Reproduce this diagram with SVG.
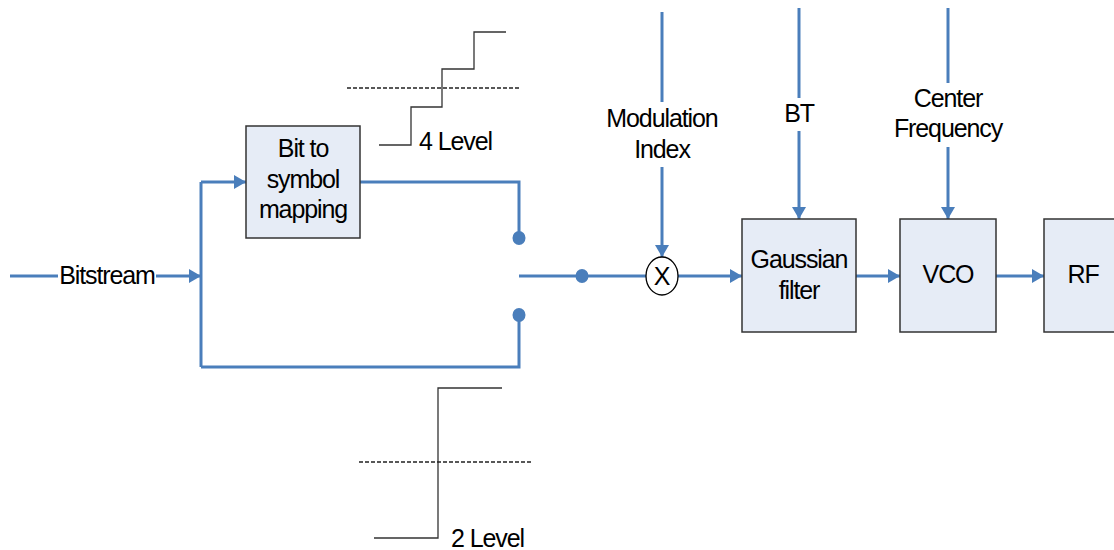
<svg xmlns="http://www.w3.org/2000/svg" width="1114" height="550" viewBox="0 0 1114 550">
<style>
text{font-family:"Liberation Sans",Arial,sans-serif;font-size:25px;letter-spacing:-1.1px;fill:#000;text-anchor:middle}
.box{fill:#e6ecf6;stroke:#333;stroke-width:1.5}
.c{fill:none;stroke:#4a7ebb;stroke-width:3}
.a{marker-end:url(#ah)}
.dot{fill:#4a7ebb}
.lv{fill:none;stroke:#333;stroke-width:1.3}
.dash{fill:none;stroke:#222;stroke-width:1.3;stroke-dasharray:4 2}
.lt{text-anchor:start}
</style>
<defs>
<marker id="ah" markerUnits="userSpaceOnUse" markerWidth="13" markerHeight="15" refX="12" refY="7" orient="auto">
<path d="M0,0 L12,7 L0,14 z" fill="#4a7ebb"/>
</marker>
</defs>
<g id="connectors">
<path class="c" d="M10,276 H58"/>
<path class="c a" d="M156,276 H201"/>
<path class="c" d="M201,367 V182"/>
<path class="c a" d="M201,182 H246"/>
<path class="c" d="M360,182 H519 V232"/>
<path class="c" d="M201,367 H519 V320"/>
<path class="c" d="M519,276 H646"/>
<path class="c a" d="M678,276 H742"/>
<path class="c" d="M662,12 V102"/>
<path class="c a" d="M662,167 V257"/>
<path class="c" d="M799,8 V98"/>
<path class="c a" d="M799,131 V219"/>
<path class="c" d="M948,8 V83"/>
<path class="c a" d="M948,147 V219"/>
<path class="c a" d="M856,276 H900"/>
<path class="c a" d="M996,276 H1044"/>
<ellipse class="dot" cx="519" cy="238" rx="6.5" ry="7"/>
<ellipse class="dot" cx="519" cy="315" rx="6.5" ry="7"/>
<ellipse class="dot" cx="582" cy="276" rx="6.5" ry="7"/>
</g>
<g id="bitstream"><text x="107" y="284">Bitstream</text></g>
<g id="bit2sym">
<rect class="box" x="246" y="126" width="114" height="112"/>
<text x="303" y="157">Bit to</text>
<text x="303" y="188">symbol</text>
<text x="303" y="218">mapping</text>
</g>
<g id="level4">
<path class="lv" d="M379,145 H411 V107 H442 V69 H474 V32 H506"/>
<path class="dash" d="M347,88 H519"/>
<text class="lt" x="419" y="150">4 Level</text>
</g>
<g id="level2">
<path class="lv" d="M374,538 H438 V388 H502"/>
<path class="dash" d="M359,462 H532"/>
<text class="lt" x="451" y="547">2 Level</text>
</g>
<g id="modindex">
<text x="662" y="127">Modulation</text>
<text x="662" y="158">Index</text>
</g>
<g id="mult">
<ellipse cx="662" cy="276" rx="16" ry="19" fill="#fff" stroke="#000" stroke-width="1.3"/>
<text x="662" y="285" style="letter-spacing:0">X</text>
</g>
<g id="bt"><text x="799" y="122">BT</text></g>
<g id="cf">
<text x="948" y="107">Center</text>
<text x="948" y="137">Frequency</text>
</g>
<g id="gauss">
<rect class="box" x="742" y="219" width="114" height="113"/>
<text x="799" y="268">Gaussian</text>
<text x="799" y="299">filter</text>
</g>
<g id="vco">
<rect class="box" x="900" y="219" width="96" height="113"/>
<text x="948" y="283">VCO</text>
</g>
<g id="rf">
<rect class="box" x="1044" y="219" width="80" height="113"/>
<text x="1083" y="283">RF</text>
</g>
</svg>
